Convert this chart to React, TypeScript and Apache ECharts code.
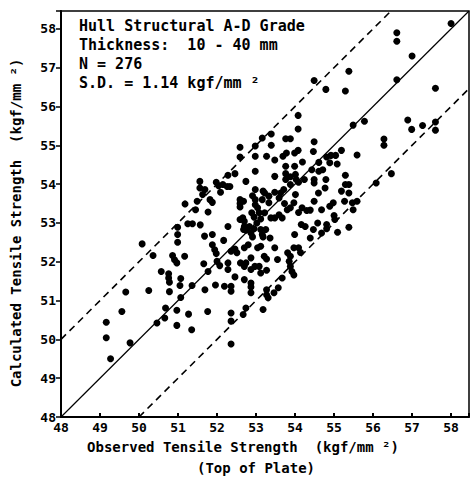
import React, { useEffect, useRef } from "react";
import * as echarts from "echarts";

// Observed (x) and calculated (y) tensile strength, kgf/mm²
const observed: number[] = [
  58.0, 56.61, 56.61, 57.0, 55.38, 54.49, 54.79, 55.29, 56.61, 57.6, 55.49, 55.78, 56.89, 56.99, 57.27, 57.6, 57.6,
  54.08, 54.08, 56.28, 56.28, 55.59, 56.47, 56.08,
  53.16, 53.39, 53.39, 52.59, 52.59, 52.98, 52.98, 53.27, 53.48, 53.76, 53.88, 53.78, 53.99, 54.08, 54.19, 54.49,
  54.47, 54.61, 54.81, 54.92, 55.04, 55.19, 54.89, 55.08, 53.99, 53.76,
  52.28, 52.46, 52.74, 52.98, 53.48, 53.76, 53.76, 53.88, 54.01, 54.03, 54.09, 54.24, 54.49, 54.49, 54.61, 54.71,
  54.79, 55.29, 55.29, 51.56, 51.56, 51.69, 51.98, 52.04, 52.15, 52.26, 52.09, 51.49, 51.45, 51.18, 51.88, 51.77,
  52.59, 52.59, 52.59, 52.68, 52.98, 52.98, 52.98, 53.04, 53.08, 53.12, 53.02, 53.16, 53.18, 53.33, 53.48, 53.63,
  53.71, 53.88, 53.38, 53.48, 53.59, 53.8, 53.88, 54.09, 54.18, 54.3, 54.39, 54.49, 54.6, 54.77, 54.68, 54.98,
  55.19, 55.27, 55.38, 55.38, 55.49, 55.59,
  51.25, 51.37, 51.57, 50.99, 50.99, 50.99, 51.68, 51.88, 51.88, 51.94, 51.98, 52.17, 52.28, 52.59, 52.7, 52.7,
  52.74, 52.83, 52.87, 52.95, 53.12, 53.16, 53.18, 53.36, 52.46, 52.7, 53.04, 53.12, 53.48, 53.99, 54.09, 54.14,
  54.16, 54.47, 54.39, 54.81, 54.81, 55.0, 55.02, 55.09, 55.38, 50.08, 50.36, 51.17,
  50.57, 50.76, 50.76, 50.78, 50.78, 50.86, 50.91, 50.97, 51.07, 51.36, 51.66, 51.77, 52.07, 51.96, 52.19, 52.28,
  52.36, 52.36, 52.46, 52.7, 52.74, 52.7, 52.87, 52.87, 52.87, 52.87, 52.97, 53.08, 53.21, 53.27, 53.12, 53.27,
  53.27, 53.27, 53.31, 53.46, 53.57, 53.67, 53.81, 53.88, 53.85, 53.88, 53.92, 53.97, 50.25, 49.66, 51.07,
  50.68, 50.66, 50.46, 50.97, 50.97, 51.27, 51.35, 51.76, 52.36, 52.36, 52.36, 52.74, 52.67, 53.18, 49.56, 49.16,
  49.16, 49.27, 49.77,
  52.91, 52.89, 52.95, 53.22, 53.25, 52.91, 52.8, 52.66, 52.68, 53.22, 53.33, 53.59, 53.73, 53.67, 53.97, 54.01,
  52.51, 52.6, 52.36, 52.0, 54.68, 54.58, 54.89, 54.26, 55.47, 54.43, 53.69, 51.63, 51.82, 52.33, 52.28, 51.05,
  51.69, 52.87, 53.55, 53.97,
];
const calculated: number[] = [
  58.14, 57.9, 57.68, 57.3, 56.91, 56.67, 56.44, 56.4, 56.69, 56.47, 55.52, 55.62, 55.65, 55.41, 55.51, 55.6, 55.39,
  55.77, 55.42, 55.16, 55.0, 54.75, 54.27, 54.03,
  55.19, 55.29, 55.0, 54.95, 54.7, 54.72, 54.98, 54.72, 54.62, 55.17, 55.17, 54.8, 54.8, 54.87, 54.57, 55.09,
  54.84, 54.56, 54.7, 54.74, 54.74, 54.87, 54.55, 54.52, 54.46, 54.46,
  54.23, 54.27, 54.07, 54.33, 54.2, 54.27, 54.12, 54.19, 54.25, 54.12, 54.05, 54.12, 54.12, 54.03, 54.33, 54.37,
  54.12, 54.23, 53.99, 54.07, 53.9, 53.86, 54.05, 53.96, 53.99, 53.94, 53.79, 53.56, 53.34, 53.49, 53.53, 53.28,
  53.6, 53.5, 53.41, 53.56, 53.86, 53.6, 53.47, 53.39, 53.26, 53.1, 53.0, 53.6, 53.82, 53.52, 53.79, 53.77,
  53.86, 53.99, 53.13, 53.13, 53.21, 53.34, 53.39, 53.27, 53.39, 53.32, 53.33, 53.56, 53.77, 53.9, 53.34, 53.52,
  53.82, 53.56, 53.99, 53.77, 53.34, 53.56,
  52.98, 52.98, 52.95, 52.89, 52.7, 52.5, 52.66, 52.7, 52.44, 52.31, 52.21, 52.55, 52.91, 53.09, 53.04, 52.91,
  52.81, 52.91, 52.74, 52.85, 52.83, 52.7, 52.64, 52.61, 52.33, 52.36, 52.36, 52.4, 52.36, 52.7, 52.36, 52.24,
  52.96, 52.83, 52.61, 52.96, 52.85, 53.19, 53.09, 52.76, 52.89, 52.46, 52.16, 52.14,
  51.75, 51.69, 51.58, 51.47, 51.23, 52.16, 52.05, 51.97, 51.57, 51.39, 51.95, 51.75, 51.9, 51.4, 51.37, 51.97,
  51.37, 51.24, 51.61, 51.88, 51.97, 51.54, 52.1, 51.8, 51.45, 51.35, 51.88, 51.88, 52.14, 52.07, 51.71, 51.78,
  51.28, 51.15, 51.07, 51.2, 51.33, 51.58, 52.23, 52.14, 52.01, 51.88, 51.75, 51.66, 51.26, 51.22, 51.08,
  50.81, 50.55, 50.42, 50.75, 50.36, 50.65, 50.25, 50.72, 50.68, 50.47, 49.88, 50.81, 50.64, 50.77, 50.72, 50.44,
  50.04, 49.5, 49.91,
  53.7, 53.26, 53.15, 53.26, 52.83, 52.64, 52.44, 53.13, 52.83, 53.77, 53.69, 53.64, 53.5, 53.13, 53.52, 53.73,
  52.23, 51.97, 52.27, 52.01, 52.74, 53.0, 53.43, 52.91, 53.52, 54.37, 54.72, 53.73, 53.6, 53.94, 51.8, 51.39,
  51.28, 51.2, 52.06, 52.36,
];

// Reference lines y = x + offset (solid 1:1 line, dashed ±2 band)
const lineOffsets: number[] = [0, 2, -2];
const axisMin = 48;
const axisMax = 58.46;
const tickStep = 1;

const annotationLines: string[] = [
  "Hull Structural A-D Grade",
  "Thickness:  10 - 40 mm",
  "N = 276",
  "S.D. = 1.14 kgf/mm ²",
];
const xTitle = "Observed Tensile Strength  (kgf/mm ²)";
const xSubTitle = "(Top of Plate)";
const yTitle = "Calculated Tensile Strength  (kgf/mm ²)";

const FONT = "'DejaVu Sans Mono', monospace";

export default function App() {
  const ref = useRef<HTMLDivElement>(null);
  useEffect(() => {
    if (!ref.current) return;
    const chart = echarts.init(ref.current, undefined, { renderer: "svg" });
    const points = observed.map((x, i) => [x, calculated[i]]);
    const lineSeries = lineOffsets.map((off) => {
      const x0 = Math.max(axisMin, axisMin - off);
      const x1 = Math.min(axisMax, axisMax - off);
      return {
        type: "line",
        data: [
          [x0, x0 + off],
          [x1, x1 + off],
        ],
        symbol: "none",
        silent: true,
        lineStyle: {
          color: "#000",
          width: off === 0 ? 1.2 : 1.6,
          type: off === 0 ? "solid" : [7, 5],
        },
        z: 1,
      };
    });
    const labelFmt = (v: number) => (Number.isInteger(v) ? String(v) : "");
    chart.setOption({
      animation: false,
      backgroundColor: "#fff",
      grid: {
        left: 61,
        top: 11,
        right: -2,
        bottom: 67,
        show: true,
        borderColor: "#000",
        borderWidth: 1.5,
        containLabel: false,
      },
      xAxis: {
        type: "value",
        min: axisMin,
        max: axisMax,
        interval: tickStep,
        splitLine: { show: false },
        axisLine: { lineStyle: { color: "#000", width: 2 } },
        axisTick: { inside: true, length: 4, lineStyle: { color: "#000", width: 2 } },
        axisLabel: {
          color: "#000",
          fontFamily: FONT,
          fontWeight: "bold",
          fontSize: 13,
          margin: 4,
          formatter: labelFmt,
        },
      },
      yAxis: {
        type: "value",
        min: axisMin,
        max: axisMax,
        interval: tickStep,
        splitLine: { show: false },
        axisLine: { lineStyle: { color: "#000", width: 2 } },
        axisTick: { inside: false, length: 5, lineStyle: { color: "#000", width: 1.5 } },
        axisLabel: {
          color: "#000",
          fontFamily: FONT,
          fontWeight: "bold",
          fontSize: 13,
          margin: 5,
          formatter: labelFmt,
        },
      },
      series: [
        ...lineSeries,
        {
          type: "scatter",
          data: points,
          symbol: "circle",
          symbolSize: 7,
          itemStyle: { color: "#000", opacity: 1 },
          z: 3,
        },
      ],
      graphic: [
        ...annotationLines.map((t, i) => ({
          type: "text",
          left: 79,
          top: 18 + i * 19,
          style: {
            text: t,
            font: `bold 15px ${FONT}`,
            fill: "#000",
          },
        })),
        {
          type: "text",
          x: 243,
          y: 447,
          style: {
            text: xTitle,
            font: `bold 14px ${FONT}`,
            fill: "#000",
            textAlign: "center",
            textVerticalAlign: "middle",
          },
        },
        {
          type: "text",
          x: 256,
          y: 468,
          style: {
            text: xSubTitle,
            font: `bold 14px ${FONT}`,
            fill: "#000",
            textAlign: "center",
            textVerticalAlign: "middle",
          },
        },
        {
          type: "text",
          x: 16,
          y: 223,
          rotation: Math.PI / 2,
          style: {
            text: yTitle,
            font: `bold 14px ${FONT}`,
            fill: "#000",
            textAlign: "center",
            textVerticalAlign: "middle",
          },
        },
      ],
    });
    return () => chart.dispose();
  }, []);
  return (
    <div
      ref={ref}
      style={{ position: "fixed", left: 0, top: 0, width: 472, height: 484, background: "#fff" }}
    />
  );
}
